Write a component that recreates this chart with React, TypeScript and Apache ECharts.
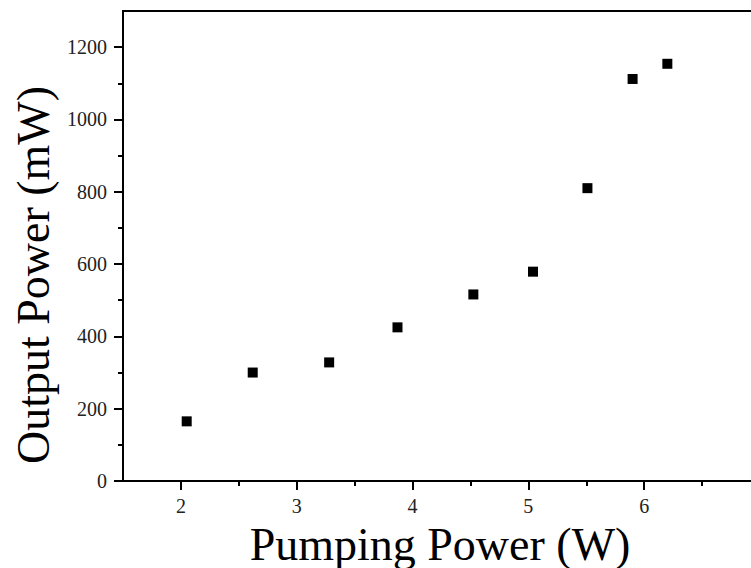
import React, { useEffect, useRef } from "react";
import * as echarts from "echarts";

const pumpingPower = [2.05, 2.62, 3.28, 3.87, 4.525, 5.04, 5.51, 5.9, 6.2];
const outputPower = [165, 300, 328, 425, 516, 579, 810, 1112, 1154];
const xMajorTicks = [2, 3, 4, 5, 6, 7];
const xTickLabels = [2, 3, 4, 5, 6];
const xMinorTicks = [2.5, 3.5, 4.5, 5.5, 6.5];
const yMajorTicks = [0, 200, 400, 600, 800, 1000, 1200];
const yMinorTicks = [100, 300, 500, 700, 900, 1100];
const xTitle = "Pumping Power (W)";
const yTitle = "Output Power (mW)";

const FONT = "Liberation Serif";

export default function App() {
  const ref = useRef<HTMLDivElement>(null);
  useEffect(() => {
    if (!ref.current) return;
    const chart = echarts.init(ref.current, undefined, { renderer: "svg" });
    const data = pumpingPower.map((x, i) => [x, outputPower[i]]);
    const xBase = { type: "value", min: 1.5, max: 7, interval: 0.5, gridIndex: 0, splitLine: { show: false } };
    const yBase = { type: "value", min: 0, max: 1300, interval: 100, gridIndex: 0, splitLine: { show: false } };
    const labelStyle = {
      fontFamily: "serif",
      fontSize: 20,
      fontWeight: "normal",
      color: "#222",
    };
    chart.setOption({
      animation: false,
      backgroundColor: "#fff",
      textStyle: { fontFamily: FONT },
      grid: {
        left: 123,
        top: 11,
        width: 637,
        bottom: 87,
        outerBoundsMode: "none",
        show: true,
        borderColor: "#000",
        borderWidth: 2,
        backgroundColor: "transparent",
      },
      xAxis: [
        {
          ...xBase,
          position: "bottom",
          axisLine: { show: true, lineStyle: { color: "#000", width: 2 } },
          axisTick: { show: true, inside: false, length: 9, customValues: xMajorTicks, lineStyle: { color: "#000", width: 2 } },
          axisLabel: {
            show: true,
            margin: 15,
            ...labelStyle,
            formatter: (v: number) => (xTickLabels.indexOf(v) >= 0 ? String(v) : ""),
          },
        },
        {
          ...xBase,
          position: "bottom",
          axisLine: { show: false },
          axisTick: { show: true, inside: false, length: 5, customValues: xMinorTicks, lineStyle: { color: "#000", width: 2 } },
          axisLabel: { show: false },
        },
      ],
      yAxis: [
        {
          ...yBase,
          position: "left",
          axisLine: { show: true, lineStyle: { color: "#000", width: 2 } },
          axisTick: { show: true, inside: false, length: 9, customValues: yMajorTicks, lineStyle: { color: "#000", width: 2 } },
          axisLabel: {
            show: true,
            margin: 16,
            ...labelStyle,
            formatter: (v: number) => (yMajorTicks.indexOf(v) >= 0 ? String(v) : ""),
          },
        },
        {
          ...yBase,
          position: "left",
          axisLine: { show: false },
          axisTick: { show: true, inside: false, length: 5, customValues: yMinorTicks, lineStyle: { color: "#000", width: 2 } },
          axisLabel: { show: false },
        },
      ],
      graphic: [
        {
          type: "text",
          x: 440,
          y: 544,
          style: {
            text: xTitle,
            font: `46px ${FONT}`,
            fill: "#000",
            textAlign: "center",
            textVerticalAlign: "middle",
          },
        },
        {
          type: "text",
          x: 33,
          y: 275,
          rotation: Math.PI / 2,
          style: {
            text: yTitle,
            font: `46px ${FONT}`,
            fill: "#000",
            textAlign: "center",
            textVerticalAlign: "middle",
          },
        },
      ],
      series: [
        {
          type: "scatter",
          xAxisIndex: 0,
          yAxisIndex: 0,
          data,
          symbol: "rect",
          symbolSize: 10,
          itemStyle: { color: "#000", opacity: 1 },
        },
      ],
    });
    return () => chart.dispose();
  }, []);
  return (
    <div
      ref={ref}
      style={{ position: "fixed", left: 0, top: 0, width: 751, height: 568 }}
    />
  );
}
